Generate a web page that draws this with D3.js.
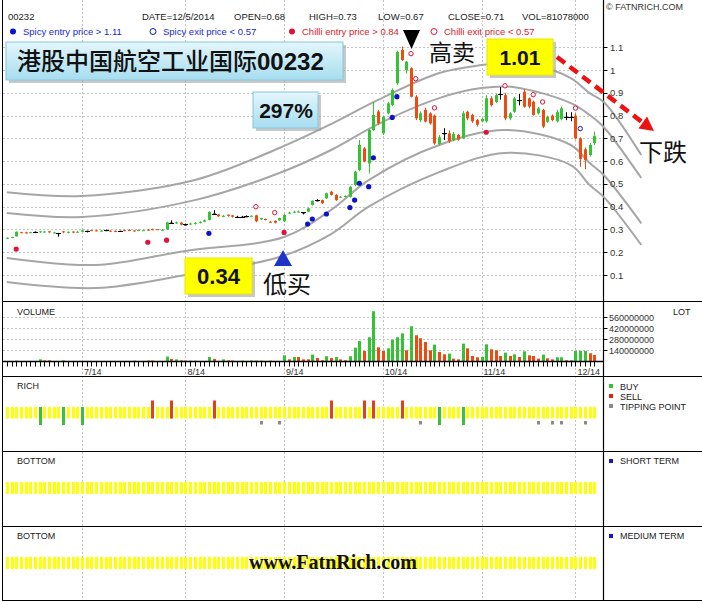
<!DOCTYPE html>
<html><head><meta charset="utf-8">
<script src="https://cdn.jsdelivr.net/npm/d3@7"></script>
<style>body{margin:0;background:#fff}svg{display:block}</style>
</head><body><svg id="c" width="702" height="602" font-family="Liberation Sans, Arial, sans-serif"></svg>
<script>
// ---------- DATA ----------
const candles = [
[0.261,0.265,0.258,0.264],[0.264,0.268,0.262,0.267],[0.270,0.292,0.268,0.290],[0.288,0.290,0.284,0.285],
[0.287,0.290,0.283,0.286],[0.286,0.290,0.284,0.288],[0.290,0.291,0.284,0.290],[0.290,0.293,0.284,0.292],
[0.290,0.293,0.286,0.291],[0.292,0.293,0.284,0.290],[0.286,0.290,0.283,0.287],[0.284,0.285,0.268,0.284],
[0.292,0.293,0.284,0.290],[0.288,0.291,0.283,0.290],[0.291,0.292,0.284,0.289],[0.289,0.293,0.286,0.290],
[0.290,0.298,0.289,0.296],[0.294,0.295,0.287,0.294],[0.297,0.298,0.294,0.295],[0.296,0.299,0.292,0.294],
[0.294,0.298,0.291,0.295],[0.297,0.300,0.293,0.297],[0.295,0.296,0.289,0.293],[0.293,0.296,0.289,0.291],
[0.294,0.295,0.293,0.294],[0.297,0.300,0.294,0.296],[0.298,0.301,0.294,0.297],[0.296,0.297,0.290,0.295],
[0.297,0.300,0.294,0.298],[0.296,0.299,0.293,0.297],[0.299,0.302,0.295,0.298],[0.301,0.304,0.297,0.300],
[0.301,0.302,0.299,0.300],[0.298,0.302,0.295,0.299],[0.300,0.334,0.298,0.331],[0.330,0.340,0.329,0.330],
[0.328,0.335,0.324,0.331],[0.330,0.332,0.318,0.321],[0.322,0.326,0.318,0.322],[0.324,0.330,0.320,0.326],
[0.326,0.332,0.322,0.329],[0.330,0.336,0.326,0.334],[0.334,0.344,0.332,0.340],[0.342,0.380,0.340,0.377],
[0.370,0.385,0.369,0.370],[0.366,0.368,0.355,0.358],[0.358,0.364,0.354,0.360],[0.365,0.366,0.356,0.360],
[0.362,0.364,0.352,0.356],[0.356,0.360,0.352,0.356],[0.356,0.360,0.352,0.356],[0.358,0.362,0.354,0.358],
[0.356,0.362,0.354,0.360],[0.362,0.365,0.332,0.336],[0.344,0.352,0.342,0.350],[0.346,0.348,0.340,0.343],
[0.334,0.337,0.330,0.332],[0.338,0.340,0.326,0.330],[0.340,0.352,0.338,0.350],[0.336,0.368,0.332,0.364],
[0.372,0.378,0.369,0.374],[0.376,0.382,0.373,0.378],[0.377,0.383,0.374,0.379],[0.375,0.376,0.366,0.375],
[0.378,0.396,0.376,0.393],[0.408,0.428,0.405,0.426],[0.428,0.433,0.424,0.428],[0.429,0.431,0.412,0.415],
[0.437,0.462,0.434,0.459],[0.466,0.470,0.449,0.452],[0.452,0.455,0.426,0.429],[0.442,0.447,0.440,0.444],
[0.444,0.450,0.441,0.447],[0.444,0.490,0.440,0.488],[0.495,0.558,0.490,0.554],[0.561,0.693,0.556,0.671],
[0.656,0.662,0.595,0.598],[0.590,0.740,0.546,0.737],[0.737,0.860,0.733,0.803],[0.818,0.825,0.760,0.766],
[0.722,0.800,0.715,0.795],[0.810,0.860,0.805,0.854],[0.847,0.920,0.842,0.913],[0.942,1.085,0.935,1.080],
[1.088,1.103,1.040,1.044],[1.000,1.040,0.985,1.037],[1.008,1.012,0.880,0.883],[0.883,0.890,0.780,0.788],
[0.780,0.818,0.772,0.810],[0.825,0.835,0.770,0.774],[0.810,0.815,0.760,0.766],[0.800,0.805,0.672,0.678],
[0.675,0.715,0.668,0.705],[0.722,0.745,0.693,0.722],[0.722,0.735,0.680,0.688],[0.693,0.728,0.688,0.720],
[0.715,0.720,0.690,0.695],[0.700,0.820,0.698,0.810],[0.817,0.822,0.780,0.788],[0.803,0.808,0.768,0.775],
[0.781,0.785,0.752,0.760],[0.775,0.790,0.770,0.785],[0.775,0.890,0.770,0.876],[0.876,0.885,0.840,0.846],
[0.860,0.895,0.855,0.890],[0.895,0.925,0.870,0.895],[0.890,0.900,0.780,0.788],[0.788,0.815,0.780,0.810],
[0.817,0.882,0.812,0.876],[0.868,0.895,0.845,0.868],[0.905,0.915,0.835,0.839],[0.876,0.880,0.832,0.840],
[0.861,0.866,0.800,0.803],[0.810,0.838,0.805,0.832],[0.825,0.830,0.745,0.752],[0.773,0.800,0.768,0.795],
[0.800,0.805,0.775,0.781],[0.775,0.825,0.770,0.815],[0.785,0.840,0.780,0.832],[0.795,0.815,0.780,0.795],
[0.795,0.815,0.775,0.795],[0.800,0.810,0.695,0.700],[0.700,0.705,0.575,0.610],[0.652,0.660,0.565,0.605],
[0.627,0.680,0.620,0.671],[0.680,0.730,0.670,0.710]
];
// volume in millions
const volumes = [3,2,8,3,2,3,2,25,12,12,2,3,12,2,2,3,2,2,3,2,2,3,2,2,3,2,3,8,3,2,
10,10,3,2,60,30,25,12,8,8,8,3,3,55,30,5,25,12,10,4,8,4,10,8,8,3,8,3,3,
76,25,55,55,25,25,85,42,13,64,42,55,25,13,64,174,259,132,306,637,178,132,165,276,306,356,140,446,331,293,246,
140,212,119,89,98,34,25,225,165,68,51,55,216,153,140,68,110,68,89,55,127,76,68,34,85,38,25,51,51,13,13,132,132,132,102,81];
const volUp = [1,0,1,0,0,1,0,1,0,0,1,0,1,1,0,1,1,0,0,0,1,1,0,0,1,0,0,1,1,0,
0,0,0,1,1,0,1,0,0,1,1,1,1,1,0,0,1,0,0,0,1,1,1,0,1,0,0,0,1,
1,0,1,0,0,0,1,0,0,1,0,1,0,0,1,1,1,0,1,1,0,0,1,1,1,1,0,1,0,0,0,
0,1,0,0,1,0,0,1,0,0,0,1,1,0,0,0,1,0,1,0,1,0,0,0,1,0,0,1,1,0,1,1,1,1,0,0];
const priceTicks = [0.1,0.2,0.3,0.4,0.5,0.6,0.7,0.8,0.9,1,1.1];
const volTicks = [140,280,420,560];
const volTickLabels = ["140000000","280000000","420000000","560000000"];
const monthIdx = [16,38,59,80,101,121];
const monthLabels = ["7/14","8/14","9/14","10/14","11/14","12/14"];
// channel curves [dayIndex, price]
const curveA = [[0,0.464],[16,0.447],[40,0.517],[58,0.658],[69,0.763],[79,0.869],[92,0.987],[101,1.022],[106,1.031],[113,1.018],[120,0.965],[124,0.899],[127,0.860],[135,0.627]];
const curveB = [[0,0.372],[16,0.355],[40,0.429],[58,0.548],[69,0.649],[79,0.763],[92,0.877],[101,0.921],[108,0.925],[120,0.855],[124,0.803],[127,0.750],[135,0.526]];
const curveC = [[0,0.175],[19,0.144],[38,0.206],[59,0.267],[69,0.386],[77,0.517],[92,0.671],[106,0.737],[120,0.671],[124,0.592],[127,0.539],[135,0.327]];
const curveD = [[0,0.069],[19,0.043],[38,0.100],[58,0.179],[69,0.280],[77,0.400],[92,0.552],[106,0.636],[120,0.583],[124,0.495],[127,0.443],[135,0.232]];
const spicyEntry = [[43,0.283],[64,0.324],[65,0.346],[68,0.368],[73,0.396],[74,0.429],[75,0.503],[77,0.488],[78,0.615],[82,0.792],[83,0.883]];
const spicyExit = [[122,0.743]];
const chilliEntry = [[2,0.214],[30,0.244],[34,0.253],[59,0.287],[102,0.727]];
const chilliExit = [[53,0.400],[57,0.374],[86,1.072],[87,0.962],[91,0.834],[106,0.931],[112,0.892],[114,0.860],[121,0.833]];
const buyDays = [7,12,16,92,97];
const sellDays = [31,35,44,69,76,78,84];
const tipDays = [54,58,88,113,116,118,123];
const headerItems = [["00232",8],["DATE=12/5/2014",142],["OPEN=0.68",234],["HIGH=0.73",309],["LOW=0.67",378],["CLOSE=0.71",448],["VOL=81078000",522]];

// ---------- SCALES ----------
const svg = d3.select('#c');
const N = candles.length;
const x = d3.scaleLinear().domain([0,125]).range([6.8,594.3]);
const yP = d3.scaleLinear().domain([0,1.1]).range([297.8,47.3]);
const yV = d3.scaleLinear().domain([0,560]).range([361.3,317.3]);
const G='#33c433', R='#f04a10', AX=603.5;
const gridC='#c4c4c4';

// ---------- PANEL FRAMES & GRID ----------
const grid = svg.append('g');
grid.selectAll('.hg').data(priceTicks).join('line')
  .attr('x1',3).attr('x2',AX).attr('y1',d=>Math.round(yP(d))+0.5).attr('y2',d=>Math.round(yP(d))+0.5)
  .attr('stroke',gridC).attr('stroke-dasharray','2,2');
grid.selectAll('.vg').data(volTicks).join('line')
  .attr('x1',3).attr('x2',AX).attr('y1',d=>Math.round(yV(d))+0.5).attr('y2',d=>Math.round(yV(d))+0.5)
  .attr('stroke',gridC).attr('stroke-dasharray','2,2');
grid.selectAll('.mg').data(monthIdx).join('line')
  .attr('x1',d=>Math.round(x(d))+0.5).attr('x2',d=>Math.round(x(d))+0.5).attr('y1',0).attr('y2',600)
  .attr('stroke',gridC).attr('stroke-dasharray','2,2');

[301.5,376.5,451.5,526.5,600.5].forEach(yy=>{
  svg.append('line').attr('x1',2).attr('x2',702).attr('y1',yy).attr('y2',yy).attr('stroke','#000').attr('stroke-width',1.2);
});
svg.append('line').attr('x1',2.5).attr('x2',2.5).attr('y1',0).attr('y2',601).attr('stroke','#000');
svg.append('line').attr('x1',AX).attr('x2',AX).attr('y1',0).attr('y2',601).attr('stroke','#000').attr('stroke-width',1.2);

// ---------- CURVES ----------
const line = d3.line().x(d=>x(d[0])).y(d=>yP(d[1])).curve(d3.curveCatmullRom.alpha(0.5));
[curveA,curveB,curveC,curveD].forEach(cv=>{
  svg.append('path').attr('d',line(cv)).attr('fill','none').attr('stroke','#a6a6a6').attr('stroke-width',2);
});

// ---------- CANDLES ----------
const cg = svg.append('g');
const col = d => d[3]>d[0]?G:(d[3]<d[0]?R:'#000');
cg.selectAll('.wick').data(candles).join('line')
  .attr('x1',(d,i)=>Math.round(x(i))+0.5).attr('x2',(d,i)=>Math.round(x(i))+0.5)
  .attr('y1',d=>yP(d[1])).attr('y2',d=>yP(d[2])).attr('stroke',col);
cg.selectAll('.body').data(candles).join('rect')
  .attr('x',(d,i)=>Math.round(x(i))-1).attr('width',3)
  .attr('y',d=>yP(Math.max(d[0],d[3]))).attr('height',d=>Math.max(1,Math.abs(yP(d[0])-yP(d[3]))))
  .attr('fill',col);
cg.selectAll('.doji').data(candles.map((d,i)=>[d,i]).filter(p=>p[0][0]===p[0][3])).join('line')
  .attr('x1',p=>Math.round(x(p[1]))-2).attr('x2',p=>Math.round(x(p[1]))+3)
  .attr('y1',p=>Math.round(yP(p[0][0]))+0.5).attr('y2',p=>Math.round(yP(p[0][0]))+0.5).attr('stroke','#000');

// ---------- MARKERS ----------
const mk = svg.append('g');
mk.selectAll('.se').data(spicyEntry).join('circle').attr('cx',d=>x(d[0])).attr('cy',d=>yP(d[1])).attr('r',2.6).attr('fill','#0a14c8');
mk.selectAll('.sx').data(spicyExit).join('circle').attr('cx',d=>x(d[0])).attr('cy',d=>yP(d[1])).attr('r',2.2).attr('fill','#fff').attr('stroke','#0a14c8');
mk.selectAll('.ce').data(chilliEntry).join('circle').attr('cx',d=>x(d[0])).attr('cy',d=>yP(d[1])).attr('r',2.6).attr('fill','#dc143c');
mk.selectAll('.cx').data(chilliExit).join('circle').attr('cx',d=>x(d[0])).attr('cy',d=>yP(d[1])).attr('r',2.2).attr('fill','#fff').attr('stroke','#dc143c');

// ---------- PRICE AXIS ----------
const pa = svg.append('g');
pa.selectAll('.pt').data(priceTicks).join('line').attr('x1',AX).attr('x2',AX+4)
  .attr('y1',d=>Math.round(yP(d))+0.5).attr('y2',d=>Math.round(yP(d))+0.5).attr('stroke','#000');
pa.selectAll('.pl').data(priceTicks).join('text').attr('x',610).attr('y',d=>yP(d)+3.5)
  .attr('font-size',9.5).attr('fill','#333').text(d=>d3.format('~g')(d));

// ---------- VOLUME ----------
const vg = svg.append('g');
vg.selectAll('.vb').data(volumes).join('rect')
  .attr('x',(d,i)=>Math.round(x(i))-1).attr('width',3)
  .attr('y',d=>yV(d)).attr('height',d=>yV(0)-yV(d))
  .attr('fill',(d,i)=>volUp[i]?G:R);
vg.append('line').attr('x1',3).attr('x2',AX).attr('y1',361.5).attr('y2',361.5).attr('stroke','#000').attr('stroke-width',1.5);
vg.selectAll('.dt').data(d3.range(N)).join('line')
  .attr('x1',i=>Math.round(x(i))+0.5).attr('x2',i=>Math.round(x(i))+0.5).attr('y1',361).attr('y2',366.5).attr('stroke','#000');
vg.selectAll('.ml').data(monthIdx).join('text').attr('x',d=>x(d)+2).attr('y',374.5)
  .attr('font-size',9).attr('fill','#333').text((d,i)=>monthLabels[i]);
vg.selectAll('.vt').data(volTicks).join('line').attr('x1',AX).attr('x2',AX+4)
  .attr('y1',d=>Math.round(yV(d))+0.5).attr('y2',d=>Math.round(yV(d))+0.5).attr('stroke','#000');
vg.selectAll('.vl').data(volTicks).join('text').attr('x',609).attr('y',d=>yV(d)+3.5)
  .attr('font-size',9).attr('fill','#333').text((d,i)=>volTickLabels[i]);
vg.append('text').attr('x',17).attr('y',315).attr('font-size',9).attr('fill','#222').text('VOLUME');
vg.append('text').attr('x',673).attr('y',315).attr('font-size',9).attr('fill','#222').text('LOT');

// ---------- RICH ----------
const rg = svg.append('g');
rg.selectAll('.ry').data(d3.range(N)).join('rect')
  .attr('x',i=>Math.round(x(i))-1).attr('width',3).attr('y',407).attr('height',11.5)
  .attr('fill','#ffff00');
rg.selectAll('.rb').data(buyDays).join('rect').attr('x',i=>Math.round(x(i))-1).attr('width',3).attr('y',407).attr('height',18).attr('fill','#3cbf3c');
rg.selectAll('.rs').data(sellDays).join('rect').attr('x',i=>Math.round(x(i))-1).attr('width',3).attr('y',400.5).attr('height',18).attr('fill','#e0401a');
rg.selectAll('.rt').data(tipDays).join('rect').attr('x',i=>Math.round(x(i))-1).attr('width',3).attr('y',421).attr('height',3.5).attr('fill','#8a8a8a');
rg.append('text').attr('x',17).attr('y',389).attr('font-size',9).attr('fill','#222').text('RICH');
[['BUY','#33c433',387],['SELL','#e02010',397],['TIPPING POINT','#8a8a8a',407]].forEach(l=>{
  rg.append('rect').attr('x',609).attr('y',l[2]-3).attr('width',4).attr('height',4).attr('fill',l[1]);
  rg.append('text').attr('x',620).attr('y',l[2]+2.5).attr('font-size',9).attr('fill','#222').text(l[0]);
});

// ---------- BOTTOM PANELS ----------
[[482,461,'SHORT TERM'],[557,536,'MEDIUM TERM']].forEach(p=>{
  const bg = svg.append('g');
  bg.selectAll('.by').data(d3.range(N)).join('rect')
    .attr('x',i=>Math.round(x(i))-1).attr('width',3).attr('y',p[0]).attr('height',12).attr('fill','#ffff00');
  bg.append('text').attr('x',17).attr('y',p[1]+3).attr('font-size',9).attr('fill','#222').text('BOTTOM');
  bg.append('rect').attr('x',609).attr('y',p[1]-2).attr('width',4).attr('height',4).attr('fill','#1414c8');
  bg.append('text').attr('x',620).attr('y',p[1]+3).attr('font-size',9).attr('fill','#222').text(p[2]);
});
svg.append('text').attr('x',333).attr('y',569).attr('text-anchor','middle')
  .attr('font-family','Liberation Serif, DejaVu Serif, serif').attr('font-weight','bold').attr('font-size',20)
  .attr('fill','#111').text('www.FatnRich.com');

// ---------- HEADER ----------
const hd = svg.append('g');
hd.selectAll('.h1').data(headerItems).join('text').attr('x',d=>d[1]).attr('y',20)
  .attr('font-size',9.5).attr('fill','#222').text(d=>d[0]);
hd.append('text').attr('x',606).attr('y',10).attr('font-size',9).attr('fill','#333').text('\u00A9 FATNRICH.COM');
const leg2 = [
  {x:13,fill:'#0a14c8',stroke:'none',col:'#1a2ad0',t:'Spicy entry price > 1.11'},
  {x:153,fill:'#fff',stroke:'#0a14c8',col:'#1a2ad0',t:'Spicy exit price < 0.57'},
  {x:292,fill:'#dc143c',stroke:'none',col:'#d81c2c',t:'Chilli entry price > 0.84'},
  {x:434,fill:'#fff',stroke:'#dc143c',col:'#d81c2c',t:'Chilli exit price < 0.57'}];
leg2.forEach(l=>{
  hd.append('circle').attr('cx',l.x).attr('cy',31.5).attr('r',3).attr('fill',l.fill).attr('stroke',l.stroke);
  hd.append('text').attr('x',l.x+10).attr('y',35).attr('font-size',9.5).attr('fill',l.col).text(l.t);
});

// ---------- ANNOTATIONS ----------
const an = svg.append('g');
const defs = svg.append('defs');
const gr = defs.append('linearGradient').attr('id','teal').attr('x1',0).attr('y1',0).attr('x2',0).attr('y2',1);
gr.append('stop').attr('offset','0%').attr('stop-color','#e4f6fc');
gr.append('stop').attr('offset','100%').attr('stop-color','#a6ddef');
function box(x0,y0,w,h,fill,stroke){
  an.append('rect').attr('x',x0+3).attr('y',y0+3).attr('width',w).attr('height',h).attr('fill','#9a9a9a').attr('opacity',0.55);
  an.append('rect').attr('x',x0).attr('y',y0).attr('width',w).attr('height',h).attr('fill',fill).attr('stroke',stroke);
}
const cjk = 'Noto Sans CJK SC, sans-serif';
box(6,42,337,38,'url(#teal)','#86c6dc');
const tt = an.append('text').attr('x',17).attr('y',70).attr('font-size',24).attr('fill','#111');
tt.append('tspan').attr('font-family',cjk).attr('font-weight',500).text('港股中国航空工业国际');
tt.append('tspan').attr('font-family','Liberation Sans, Arial, sans-serif').attr('font-weight','bold').text('00232');
box(253,92,65,36,'url(#teal)','#86c6dc');
an.append('text').attr('x',286).attr('y',118).attr('text-anchor','middle').attr('font-size',21).attr('font-weight','bold').attr('fill','#111').text('297%');
box(185,258,67,36,'#ffff00','#e8e800');
an.append('text').attr('x',218.5).attr('y',284).attr('text-anchor','middle').attr('font-size',22).attr('font-weight','bold').attr('fill','#111').text('0.34');
box(487,39,66,36,'#ffff00','#e8e800');
an.append('text').attr('x',520).attr('y',65).attr('text-anchor','middle').attr('font-size',21).attr('font-weight','bold').attr('fill','#111').text('1.01');
an.append('path').attr('d','M274,266L292,266L283,250Z').attr('fill','#1e36c8');
an.append('path').attr('d','M403,30L420,30L411.5,49Z').attr('fill','#000');
an.append('text').attr('x',263).attr('y',293).attr('font-family',cjk).attr('font-size',24).attr('fill','#111').text('低买');
an.append('text').attr('x',429).attr('y',61).attr('font-family',cjk).attr('font-size',23).attr('fill','#111').text('高卖');
an.append('text').attr('x',639).attr('y',161).attr('font-family',cjk).attr('font-size',24).attr('fill','#111').text('下跌');
an.append('line').attr('x1',557).attr('y1',57).attr('x2',642).attr('y2',122).attr('stroke','#ee1111').attr('stroke-width',4.5).attr('stroke-dasharray','10,6');
an.append('path').attr('d','M654,131L638.5,128.5L647,116.5Z').attr('fill','#ee1111');
</script></body></html>
